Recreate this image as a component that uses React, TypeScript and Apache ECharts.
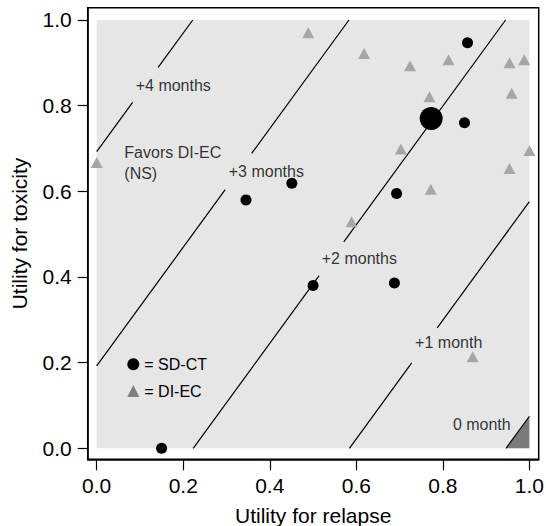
import React, { useEffect, useRef } from "react";
import * as echarts from "echarts";

const FONT = "'Liberation Sans', Arial, Helvetica, sans-serif";

// Tick values
const tickValues = [0, 0.2, 0.4, 0.6, 0.8, 1.0];

// SD-CT individual points [relapse utility, toxicity utility]
const sdctPoints: number[][] = [
  [0.15, 0.0],
  [0.345, 0.58],
  [0.451, 0.619],
  [0.5, 0.38],
  [0.688, 0.386],
  [0.693, 0.595],
  [0.85, 0.76],
  [0.857, 0.947],
];

// Large summary point
const meanPoint: number[][] = [[0.773, 0.77]];

// DI-EC individual points
const diecPoints: number[][] = [
  [0.0, 0.667],
  [0.489, 0.97],
  [0.589, 0.529],
  [0.618, 0.922],
  [0.703, 0.699],
  [0.724, 0.893],
  [0.769, 0.821],
  [0.772, 0.605],
  [0.813, 0.907],
  [0.869, 0.214],
  [0.954, 0.9],
  [0.959, 0.829],
  [0.954, 0.653],
  [0.988, 0.907],
  [1.0, 0.695],
];

// Iso-benefit lines: y = slope * (x - offset)
const isoSlope = 1.385;
const isoOffsets = [0.946, 0.584, 0.223, -0.139, -0.5];
const isoGaps: (number[] | null)[] = [null, [0.728, 0.787], [0.514, 0.571], [0.297, 0.358], [0.083, 0.142]];
const isoLabels = ["0 month", "+1 month", "+2 months", "+3 months", "+4 months"];
const isoLabelPos: number[][] = [
  [0.89, 0.056],
  [0.8135, 0.2466],
  [0.607, 0.4436],
  [0.392, 0.646],
  [0.177, 0.847],
];

const favorsText = "Favors DI-EC\n(NS)";
const favorsPos = [0.0638, 0.6666];

function buildOption() {
  const lineSeries: any[] = [];
  isoOffsets.forEach((x0, i) => {
    const xs = Math.max(0, x0);
    const xe = Math.min(1, x0 + 1 / isoSlope);
    const f = (x: number) => [x, isoSlope * (x - x0)];
    const gap = isoGaps[i];
    const segs = gap ? [[xs, gap[0]], [gap[1], xe]] : [[xs, xe]];
    segs.forEach((s) => {
      lineSeries.push({
        type: "line",
        data: [f(s[0]), f(s[1])],
        showSymbol: false,
        symbol: "none",
        silent: true,
        z: 3,
        lineStyle: { color: "#000", width: 1.2 },
      });
    });
  });

  const z0 = isoOffsets[0];
  const zeroTri = [
    [z0, 0],
    [1, 0],
    [1, isoSlope * (1 - z0)],
  ];

  return {
    animation: false,
    textStyle: { fontFamily: FONT },
    grid: {
      left: 87.7,
      top: 7.7,
      right: 7.3,
      bottom: 66.7,
      containLabel: false,
      outerBoundsMode: "none",
      show: true,
      borderColor: "#000",
      borderWidth: 1.5,
      backgroundColor: "transparent",
    },
    legend: {
      orient: "vertical",
      left: 127.3,
      top: 356.3,
      padding: 0,
      itemWidth: 12,
      itemHeight: 12,
      itemGap: 10.7,
      selectedMode: false,
      formatter: (n: string) => "= " + n,
      textStyle: { fontSize: 16, color: "#000", fontFamily: FONT },
      data: [
        { name: "SD-CT", icon: "circle", itemStyle: { color: "#000", opacity: 1 } },
        { name: "DI-EC", icon: "triangle", itemStyle: { color: "#808080", opacity: 1 } },
      ],
    },
    xAxis: {
      type: "value",
      min: -0.0208,
      max: 1.0215,
      splitLine: { show: false },
      axisLine: { show: true, onZero: false, lineStyle: { color: "#000", width: 1.5 } },
      axisTick: { show: true, customValues: tickValues, length: 11, lineStyle: { color: "#000", width: 1.2 } },
      axisLabel: {
        customValues: tickValues,
        formatter: (v: number) => v.toFixed(1),
        fontSize: 21,
        color: "#000",
        margin: 16,
        fontFamily: FONT,
      },
      name: "Utility for relapse",
      nameLocation: "middle",
      nameGap: 46,
      nameTextStyle: { fontSize: 21, color: "#000", fontFamily: FONT },
    },
    yAxis: {
      type: "value",
      min: -0.0257,
      max: 1.0287,
      splitLine: { show: false },
      axisLine: { show: true, onZero: false, lineStyle: { color: "#000", width: 1.5 } },
      axisTick: { show: true, customValues: tickValues, length: 10, lineStyle: { color: "#000", width: 1.2 } },
      axisLabel: {
        customValues: tickValues,
        formatter: (v: number) => v.toFixed(1),
        fontSize: 21,
        color: "#000",
        margin: 16,
        fontFamily: FONT,
      },
      name: "Utility for toxicity",
      nameLocation: "middle",
      nameGap: 58,
      nameTextStyle: { fontSize: 21, color: "#000", fontFamily: FONT },
    },
    series: [
      {
        type: "scatter",
        data: [],
        silent: true,
        z: 0,
        markArea: {
          silent: true,
          itemStyle: { color: "#e6e6e6", opacity: 1 },
          data: [[{ coord: [0, 0] }, { coord: [1, 1] }]],
        },
      },
      ...lineSeries,
      {
        type: "custom",
        silent: true,
        z: 2,
        data: [0],
        renderItem: (_params: any, api: any) => ({
          type: "polygon",
          shape: { points: zeroTri.map((p) => api.coord(p)) },
          style: { fill: "#7a7a7a" },
        }),
      },
      {
        name: "DI-EC",
        type: "scatter",
        symbol: "triangle",
        symbolSize: [12, 11],
        itemStyle: { color: "#a6a6a6", opacity: 1 },
        z: 4,
        data: diecPoints,
      },
      {
        name: "SD-CT",
        type: "scatter",
        symbol: "circle",
        symbolSize: 11,
        itemStyle: { color: "#000", opacity: 1 },
        z: 5,
        data: sdctPoints,
      },
      {
        name: "Mean",
        type: "scatter",
        symbol: "circle",
        symbolSize: 23,
        itemStyle: { color: "#000", opacity: 1 },
        z: 5,
        data: meanPoint,
      },
      {
        type: "scatter",
        symbolSize: 0,
        silent: true,
        z: 6,
        label: {
          show: true,
          position: "inside",
          fontSize: 16,
          color: "#000",
          fontFamily: FONT,
          formatter: (p: any) => p.name,
        },
        data: isoLabels.map((n, i) => ({ name: n, value: isoLabelPos[i] })),
      },
      {
        type: "scatter",
        symbolSize: 0,
        silent: true,
        z: 6,
        label: {
          show: true,
          position: "right",
          distance: 0,
          align: "left",
          fontSize: 16,
          lineHeight: 21,
          color: "#000",
          fontFamily: FONT,
          formatter: (p: any) => p.name,
        },
        data: [{ name: favorsText, value: favorsPos }],
      },
    ],
  };
}

export default function App() {
  const ref = useRef<HTMLDivElement>(null);
  useEffect(() => {
    const chart = echarts.init(ref.current!, null, { renderer: "svg" });
    chart.setOption(buildOption() as any);
    return () => chart.dispose();
  }, []);
  return (
    <div
      ref={ref}
      style={{ position: "fixed", left: 0, top: 0, width: 546, height: 526, background: "#fff" }}
    />
  );
}
